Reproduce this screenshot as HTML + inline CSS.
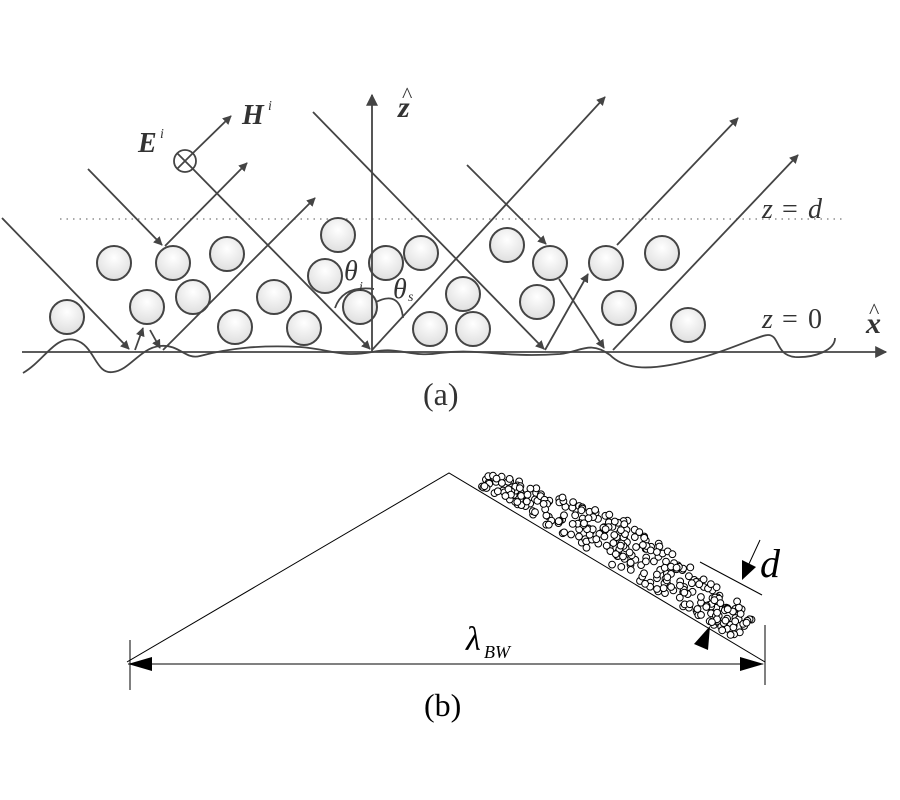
<!DOCTYPE html>
<html><head><meta charset="utf-8"><style>
html,body{margin:0;padding:0;background:#fff;}
svg{display:block;}
</style></head><body>
<svg id="s" width="900" height="800" viewBox="0 0 900 800" xmlns="http://www.w3.org/2000/svg">
<defs>
<radialGradient id="g" cx="0.5" cy="0.35" r="0.7"><stop offset="0" stop-color="#fff"/><stop offset="1" stop-color="#dcdcdc"/></radialGradient>
<marker id="a" viewBox="0 0 10 10" refX="9" refY="5" markerWidth="9" markerHeight="9" markerUnits="userSpaceOnUse" orient="auto"><path d="M0,0 L10,5 L0,10 z" fill="#444"/></marker>
<marker id="a2" viewBox="0 0 10 10" refX="9" refY="5" markerWidth="16" markerHeight="12" markerUnits="userSpaceOnUse" orient="auto"><path d="M0,0 L10,5 L0,10 z" fill="#444"/></marker>
</defs>
<g stroke="#444" stroke-width="1.8" fill="none">
<line x1="60" y1="219" x2="842" y2="219" stroke="#777" stroke-width="1.2" stroke-dasharray="1.5,5"/>
<g fill="url(#g)" stroke="#444" stroke-width="2">
<circle cx="67" cy="317" r="17"/><circle cx="114" cy="263" r="17"/><circle cx="147" cy="307" r="17"/>
<circle cx="173" cy="263" r="17"/><circle cx="193" cy="297" r="17"/><circle cx="227" cy="254" r="17"/>
<circle cx="235" cy="327" r="17"/><circle cx="274" cy="297" r="17"/><circle cx="304" cy="328" r="17"/>
<circle cx="338" cy="235" r="17"/><circle cx="325" cy="276" r="17"/><circle cx="360" cy="307" r="17"/>
<circle cx="386" cy="263" r="17"/><circle cx="421" cy="253" r="17"/><circle cx="430" cy="329" r="17"/>
<circle cx="507" cy="245" r="17"/><circle cx="550" cy="263" r="17"/><circle cx="606" cy="263" r="17"/>
<circle cx="662" cy="253" r="17"/><circle cx="463" cy="294" r="17"/><circle cx="537" cy="302" r="17"/>
<circle cx="473" cy="329" r="17"/><circle cx="619" cy="308" r="17"/><circle cx="688" cy="325" r="17"/>
</g>
<line x1="22" y1="352" x2="886" y2="352" marker-end="url(#a2)"/>
<line x1="372" y1="352" x2="372" y2="95" marker-end="url(#a2)"/>
<path d="M23,373 C45,360 55,335 75,340 C95,345 95,375 113,372 C130,370 140,348 160,346 C180,344 185,360 200,356 C230,348 260,345 300,347 C330,349 340,358 372,352 C400,346 410,358 440,353 C480,348 500,358 560,354 C580,352 590,340 610,355 C625,370 650,372 700,358 C730,350 760,335 768,335 C780,335 775,355 795,357 C815,358 835,350 835,338"/>
<line x1="2" y1="218" x2="129" y2="349" marker-end="url(#a)"/>
<line x1="135" y1="350" x2="143" y2="328" marker-end="url(#a)"/>
<line x1="150" y1="330" x2="160" y2="348" marker-end="url(#a)"/>
<line x1="88" y1="169" x2="162" y2="245" marker-end="url(#a)"/>
<line x1="165" y1="246" x2="247" y2="163" marker-end="url(#a)"/>
<line x1="193" y1="153" x2="231" y2="116" marker-end="url(#a)"/>
<line x1="193" y1="169" x2="370" y2="349" marker-end="url(#a)"/>
<line x1="163" y1="350" x2="315" y2="198" marker-end="url(#a)"/>
<line x1="313" y1="112" x2="544" y2="349" marker-end="url(#a)"/>
<line x1="372" y1="350" x2="605" y2="97" marker-end="url(#a)"/>
<line x1="467" y1="165" x2="546" y2="244" marker-end="url(#a)"/>
<line x1="559" y1="279" x2="604" y2="348" marker-end="url(#a)"/>
<line x1="545" y1="350" x2="588" y2="274" marker-end="url(#a)"/>
<line x1="617" y1="245" x2="738" y2="118" marker-end="url(#a)"/>
<line x1="613" y1="350" x2="798" y2="155" marker-end="url(#a)"/>
<path d="M335,308 Q343,285 374,289"/>
<path d="M376,302 Q400,290 403,318"/>
<circle cx="185" cy="161" r="11" fill="#fff"/>
<line x1="177" y1="153" x2="193" y2="169"/><line x1="193" y1="153" x2="177" y2="169"/>
</g>
<g font-family="Liberation Serif, serif" fill="#333">
<text x="138" y="152" font-size="28" font-weight="bold" font-style="italic">E</text><text x="160" y="138" font-size="14" font-style="italic">i</text>
<text x="242" y="124" font-size="28" font-weight="bold" font-style="italic">H</text><text x="268" y="110" font-size="14" font-style="italic">i</text>
<text x="398" y="117" font-size="30" font-weight="bold" font-style="italic">z</text><text x="402" y="102" font-size="22">^</text>
<text x="344" y="280" font-size="28" font-style="italic">θ</text><text x="359" y="291" font-size="14" font-style="italic">i</text>
<text x="393" y="298" font-size="28" font-style="italic">θ</text><text x="408" y="301" font-size="14" font-style="italic">s</text>
<text x="762" y="218" font-size="28" font-style="italic">z</text><text x="782" y="218" font-size="28">=</text><text x="808" y="218" font-size="28" font-style="italic">d</text>
<text x="762" y="328" font-size="28" font-style="italic">z</text><text x="782" y="328" font-size="28">=</text><text x="808" y="328" font-size="28">0</text>
<text x="866" y="333" font-size="30" font-weight="bold" font-style="italic">x</text><text x="869" y="318" font-size="22">^</text>
<text x="423" y="405" font-size="32">(a)</text>
</g>
<g stroke="#000" stroke-width="1" fill="none">
<polyline points="127,662 449,473 765,662"/>
<line x1="130" y1="640" x2="130" y2="690"/>
<line x1="765" y1="625" x2="765" y2="685"/>
<line x1="128" y1="664" x2="763" y2="664"/>
<line x1="700" y1="562" x2="762" y2="595"/>
<line x1="760" y1="540" x2="748" y2="566"/>
</g>
<g fill="#000">
<polygon points="128,664 152,657 152,671"/>
<polygon points="764,664 740,657 740,671"/>
<polygon points="742,580 742,560 756,567"/>
<polygon points="710,626 694,644 708,650"/>
</g>
<g id="pts" stroke="#000" stroke-width="1" fill="#fff"></g>
<g font-family="Liberation Serif, serif" fill="#000">
<text x="466" y="650" font-size="34" font-style="italic">λ</text><text x="484" y="658" font-size="18" font-style="italic">BW</text>
<text x="760" y="577" font-size="40" font-style="italic">d</text>
<text x="424" y="716" font-size="32">(b)</text>
</g>
</svg>
<script>
(function(){
var g=document.getElementById('pts');var seed=11;
function r(){seed=(seed*16807)%2147483647;return seed/2147483647;}
var ux=0.858,uy=0.513,nx=0.513,ny=-0.858,ax=449,ay=473;
function wid(t){ if(t<180) return 12+0.19*t; return 46-0.1*(t-180); }
var s='';
for(var i=0;i<320;i++){
 var t=35+r()*300;var w=wid(t);var o=5+r()*w;
 var x=ax+t*ux+o*nx,y=ay+t*uy+o*ny;
 s+='<circle cx="'+x.toFixed(1)+'" cy="'+y.toFixed(1)+'" r="3.4"/>';
}
g.innerHTML=s;
})();
</script>
</body></html>
